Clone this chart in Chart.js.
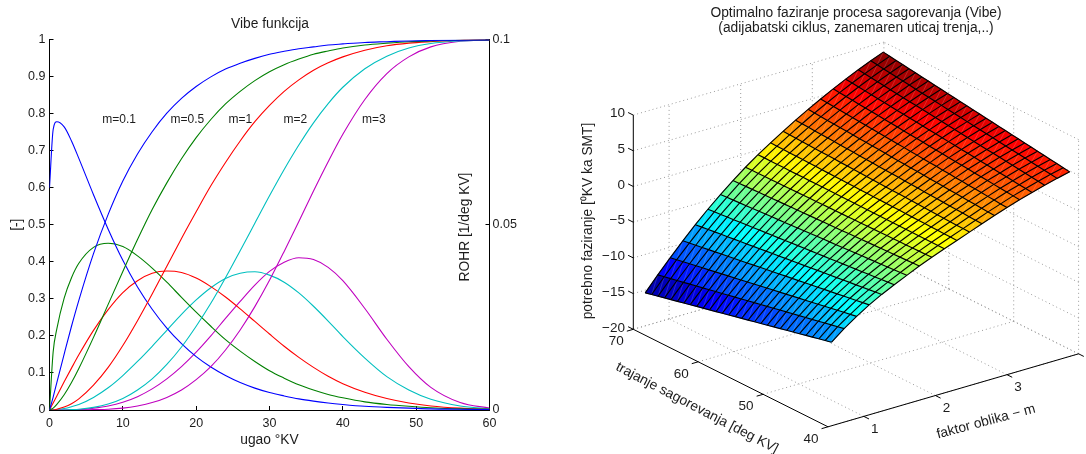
<!DOCTYPE html>
<html>
<head>
<meta charset="utf-8">
<title>Vibe funkcija</title>
<script src="https://cdn.jsdelivr.net/npm/chart.js@4"></script>
<style>
  body { margin: 0; background: #fff; }
  canvas { position: absolute; top: 0; }
  #vibe { left: 0; }
  #phasing { left: 540px; }
</style>
</head>
<body>
<canvas id="vibe" width="540" height="454"></canvas>
<canvas id="phasing" width="546" height="454"></canvas>
<script>
/* ---- Left panel: burned fraction [-] and ROHR [1/deg KV] vs angle ---- */
const angle = [0, 0.5, 1, 2, 3, 4, 6, 8, 10, 12, 14, 16, 18, 20, 22, 24, 26, 28, 30, 32, 34, 36, 38, 40, 43, 46, 49, 52, 56, 60];

const burn01 = [0, .035, .074, .151, .226, .296, .422, .528, .618, .691, .751, .801, .841, .873, .899, .920, .936, .949, .960, .968, .975, .980, .985, .988, .992, .994, .996, .997, .998, .999];
const burn05 = [0, .005, .015, .041, .074, .112, .196, .285, .374, .460, .541, .613, .678, .735, .784, .826, .860, .889, .913, .932, .947, .960, .969, .977, .985, .990, .994, .996, .998, .999];
const burn1 = [0, 0, .002, .008, .017, .030, .067, .115, .174, .241, .313, .388, .463, .535, .605, .668, .726, .778, .822, .860, .891, .917, .937, .953, .971, .983, .990, .994, .998, .999];
const burn2 = [0, 0, 0, 0, .001, .002, .007, .016, .031, .054, .084, .123, .170, .226, .288, .357, .430, .504, .578, .649, .715, .775, .827, .871, .921, .955, .977, .989, .996, .999];
const burn3 = [0, 0, 0, 0, 0, 0, .001, .002, .005, .011, .020, .034, .054, .082, .117, .162, .216, .279, .350, .428, .509, .591, .670, .744, .838, .908, .953, .980, .995, .999];

const rohr01 = [.06, .0757, .0778, .0764, .0726, .0679, .0581, .0488, .0404, .0332, .0272, .0221, .0179, .0144, .0116, .0093, .0074, .0059, .0047, .0038, .0030, .0024, .0019, .0015, .0010, .0007, .0005, .0003, .0002, .0001];
const rohr05 = [0, .0157, .0219, .0302, .0357, .0396, .0439, .0450, .0441, .0416, .0383, .0345, .0304, .0264, .0226, .0190, .0159, .0131, .0106, .0086, .0068, .0054, .0042, .0033, .0022, .0015, .0010, .0006, .0003, .0002];
const rohr1 = [0, .0019, .0038, .0076, .0113, .0149, .0215, .0271, .0317, .0349, .0369, .0375, .0371, .0356, .0333, .0305, .0273, .0239, .0205, .0172, .0142, .0115, .0091, .0071, .0048, .0031, .0019, .0011, .0005, .0002];
const rohr2 = [0, 0, .0001, .0004, .0009, .0015, .0034, .0060, .0093, .0131, .0172, .0215, .0258, .0297, .0330, .0355, .0369, .0373, .0364, .0345, .0316, .0280, .0240, .0198, .0140, .0090, .0054, .0029, .0011, .0003];
const rohr3 = [0, 0, 0, 0, .0001, .0001, .0005, .0011, .0021, .0036, .0057, .0084, .0117, .0156, .0200, .0247, .0293, .0337, .0374, .0399, .0411, .0406, .0385, .0349, .0274, .0191, .0117, .0061, .0020, .0005];

const xTicks = [0, 10, 20, 30, 40, 50, 60];
const leftTicks = [0, .1, .2, .3, .4, .5, .6, .7, .8, .9, 1];
const rightTicks = [0, .05, .1];

const mLabels = ['m=0.1', 'm=0.5', 'm=1', 'm=2', 'm=3'];
const mLabelAngles = [7.2, 16.5, 24.4, 31.9, 42.6];

/* ---- Right panel: optimal phasing surface ---- */
const shapeM = [.55, .725, .9, 1.075, 1.25, 1.425, 1.6, 1.775, 1.95, 2.125, 2.3, 2.475, 2.65, 2.825, 3.0, 3.175, 3.35, 3.525, 3.7, 3.875];
const durationDeg = [40, 40.99, 41.98, 42.97, 43.96, 44.95, 45.94, 46.93, 47.92, 48.91, 49.90, 50.89, 51.88, 52.87, 53.86, 54.85, 55.84, 56.83, 57.82, 58.81, 59.80, 60.79, 61.78, 62.77, 63.76, 64.75, 65.74, 66.73, 67.72, 68.71];

// one row per shapeM value, one column per durationDeg value
const phasing = [
  [-8.30,-8.51,-8.72,-8.94,-9.15,-9.36,-9.57,-9.78,-10.00,-10.21,-10.42,-10.63,-10.84,-11.06,-11.27,-11.48,-11.69,-11.90,-12.12,-12.33,-12.54,-12.75,-12.96,-13.18,-13.39,-13.60,-13.81,-14.02,-14.24,-14.45],
  [-6.90,-7.09,-7.28,-7.47,-7.67,-7.86,-8.05,-8.24,-8.43,-8.62,-8.81,-9.01,-9.20,-9.39,-9.58,-9.77,-9.96,-10.15,-10.34,-10.54,-10.73,-10.92,-11.11,-11.30,-11.49,-11.69,-11.88,-12.07,-12.26,-12.45],
  [-5.70,-5.87,-6.03,-6.20,-6.37,-6.54,-6.70,-6.87,-7.04,-7.20,-7.37,-7.54,-7.71,-7.87,-8.04,-8.21,-8.38,-8.54,-8.71,-8.88,-9.04,-9.21,-9.38,-9.55,-9.71,-9.88,-10.05,-10.21,-10.38,-10.55],
  [-4.60,-4.74,-4.88,-5.02,-5.17,-5.31,-5.45,-5.59,-5.73,-5.87,-6.01,-6.16,-6.30,-6.44,-6.58,-6.72,-6.86,-7.00,-7.15,-7.29,-7.43,-7.57,-7.71,-7.85,-7.99,-8.13,-8.28,-8.42,-8.56,-8.70],
  [-3.65,-3.76,-3.88,-3.99,-4.11,-4.22,-4.33,-4.45,-4.56,-4.67,-4.79,-4.90,-5.02,-5.13,-5.24,-5.36,-5.47,-5.58,-5.70,-5.81,-5.93,-6.04,-6.15,-6.27,-6.38,-6.49,-6.61,-6.72,-6.84,-6.95],
  [-2.80,-2.89,-2.97,-3.06,-3.14,-3.23,-3.32,-3.40,-3.49,-3.58,-3.66,-3.75,-3.83,-3.92,-4.01,-4.09,-4.18,-4.27,-4.35,-4.44,-4.52,-4.61,-4.70,-4.78,-4.87,-4.96,-5.04,-5.13,-5.21,-5.30],
  [-2.00,-2.06,-2.12,-2.18,-2.24,-2.30,-2.36,-2.42,-2.48,-2.54,-2.60,-2.66,-2.72,-2.78,-2.84,-2.91,-2.97,-3.03,-3.09,-3.15,-3.21,-3.27,-3.33,-3.39,-3.45,-3.51,-3.57,-3.63,-3.69,-3.75],
  [-1.20,-1.24,-1.28,-1.31,-1.35,-1.39,-1.43,-1.47,-1.50,-1.54,-1.58,-1.62,-1.66,-1.69,-1.73,-1.77,-1.81,-1.84,-1.88,-1.92,-1.96,-2.00,-2.03,-2.07,-2.11,-2.15,-2.19,-2.22,-2.26,-2.30],
  [-.50,-.52,-.53,-.55,-.56,-.58,-.59,-.61,-.62,-.64,-.66,-.67,-.69,-.70,-.72,-.73,-.75,-.76,-.78,-.79,-.81,-.83,-.84,-.86,-.87,-.89,-.90,-.92,-.93,-.95],
  [.20,.20,.21,.21,.21,.22,.22,.22,.23,.23,.23,.24,.24,.24,.25,.25,.26,.26,.26,.27,.27,.27,.28,.28,.28,.29,.29,.29,.30,.30],
  [.85,.87,.89,.91,.93,.95,.97,.99,1.02,1.04,1.06,1.08,1.10,1.12,1.14,1.16,1.18,1.20,1.22,1.24,1.26,1.28,1.31,1.33,1.35,1.37,1.39,1.41,1.43,1.45],
  [1.50,1.54,1.57,1.61,1.64,1.68,1.72,1.75,1.79,1.83,1.86,1.90,1.93,1.97,2.01,2.04,2.08,2.12,2.15,2.19,2.22,2.26,2.30,2.33,2.37,2.41,2.44,2.48,2.51,2.55],
  [2.15,2.20,2.25,2.30,2.35,2.40,2.45,2.50,2.55,2.60,2.65,2.70,2.75,2.80,2.85,2.90,2.95,3.00,3.05,3.10,3.15,3.20,3.25,3.30,3.35,3.40,3.45,3.50,3.55,3.60],
  [2.80,2.86,2.92,2.99,3.05,3.11,3.17,3.23,3.30,3.36,3.42,3.48,3.55,3.61,3.67,3.73,3.79,3.86,3.92,3.98,4.04,4.10,4.17,4.23,4.29,4.35,4.41,4.48,4.54,4.60],
  [3.40,3.47,3.55,3.62,3.70,3.77,3.84,3.92,3.99,4.07,4.14,4.22,4.29,4.36,4.44,4.51,4.59,4.66,4.73,4.81,4.88,4.96,5.03,5.10,5.18,5.25,5.33,5.40,5.47,5.55],
  [4.00,4.08,4.17,4.25,4.34,4.42,4.51,4.59,4.68,4.76,4.84,4.93,5.01,5.10,5.18,5.27,5.35,5.44,5.52,5.61,5.69,5.77,5.86,5.94,6.03,6.11,6.20,6.28,6.37,6.45],
  [4.50,4.60,4.69,4.79,4.89,4.98,5.08,5.18,5.27,5.37,5.47,5.56,5.66,5.76,5.85,5.95,6.05,6.14,6.24,6.34,6.43,6.53,6.62,6.72,6.82,6.91,7.01,7.11,7.20,7.30],
  [5.00,5.11,5.21,5.32,5.43,5.53,5.64,5.75,5.86,5.96,6.07,6.18,6.28,6.39,6.50,6.60,6.71,6.82,6.92,7.03,7.14,7.24,7.35,7.46,7.57,7.67,7.78,7.89,7.99,8.10],
  [5.45,5.57,5.68,5.80,5.92,6.04,6.15,6.27,6.39,6.50,6.62,6.74,6.86,6.97,7.09,7.21,7.33,7.44,7.56,7.68,7.79,7.91,8.03,8.15,8.26,8.38,8.50,8.61,8.73,8.85],
  [5.85,5.98,6.11,6.23,6.36,6.49,6.62,6.74,6.87,7.00,7.13,7.25,7.38,7.51,7.64,7.76,7.89,8.02,8.15,8.27,8.40,8.53,8.66,8.78,8.91,9.04,9.17,9.29,9.42,9.55],
];

const mTicks = [1, 2, 3];
const durationTicks = [40, 50, 60, 70];
const zTicks = [-20, -15, -10, -5, 0, 5, 10];

const FONT = '"Liberation Sans", Arial, sans-serif';
const INK = '#1c1c1c';
const COLORS = { blue: '#0000ff', green: '#008000', red: '#ff0000', cyan: '#00bfbf', magenta: '#bf00bf' };

/* ---- Left chart ---- */
function curve(values, color, axis) {
  return {
    data: angle.map((a, i) => ({ x: a, y: values[i] })),
    yAxisID: axis,
    showLine: true,
    borderColor: color,
    borderWidth: 1.1,
    pointRadius: 0,
    cubicInterpolationMode: 'monotone',
  };
}

function axisStyle(ticks, extra) {
  return {
    type: 'linear',
    afterBuildTicks: (s) => { s.ticks = ticks.map((v) => ({ value: v })); },
    border: { color: '#000', width: 1 },
    grid: { drawOnChartArea: false, drawTicks: true, tickLength: -4, tickColor: '#000' },
    ...extra,
  };
}

const vibeText = {
  id: 'vibeText',
  afterDatasetsDraw(chart) {
    const { ctx, scales } = chart;
    ctx.save();
    ctx.fillStyle = INK;
    ctx.font = '12px ' + FONT;
    ctx.textAlign = 'left';
    ctx.textBaseline = 'middle';
    mLabels.forEach((t, i) => {
      ctx.fillText(t, scales.x.getPixelForValue(mLabelAngles[i]), scales.y.getPixelForValue(.783));
    });
    ctx.font = '13.8px ' + FONT;
    ctx.textAlign = 'center';
    ctx.translate(465, 227);
    ctx.rotate(-Math.PI / 2);
    ctx.fillText('ROHR [1/deg KV]', 0, 0);
    ctx.restore();
  },
};

new Chart(document.getElementById('vibe'), {
  type: 'scatter',
  data: {
    datasets: [
      curve(burn01, COLORS.blue, 'y'), curve(burn05, COLORS.green, 'y'), curve(burn1, COLORS.red, 'y'),
      curve(burn2, COLORS.cyan, 'y'), curve(burn3, COLORS.magenta, 'y'),
      curve(rohr01, COLORS.blue, 'yR'), curve(rohr05, COLORS.green, 'yR'), curve(rohr1, COLORS.red, 'yR'),
      curve(rohr2, COLORS.cyan, 'yR'), curve(rohr3, COLORS.magenta, 'yR'),
    ],
  },
  options: {
    responsive: false,
    animation: false,
    plugins: {
      legend: { display: false },
      tooltip: { enabled: false },
      title: {
        display: true, text: 'Vibe funkcija', color: INK,
        font: { family: FONT, size: 13.8, weight: 'normal' },
        padding: { top: 15.7, bottom: 7.2 },
      },
    },
    scales: {
      x: axisStyle(xTicks, {
        min: 0, max: 60,
        afterFit: (s) => { s.height = 44; },
        ticks: { color: INK, font: { family: FONT, size: 12.5 }, padding: 10, maxRotation: 0, autoSkip: false, callback: (v) => String(v) },
        title: { display: true, text: 'ugao °KV', color: INK, font: { family: FONT, size: 13.8 }, padding: { top: 0, bottom: 5.7 } },
      }),
      y: axisStyle(leftTicks, {
        min: 0, max: 1,
        afterFit: (s) => { s.width = 49.5; },
        ticks: { color: INK, font: { family: FONT, size: 12.5 }, padding: 8, autoSkip: false, callback: (v) => String(v) },
        title: { display: true, text: '[-]', color: INK, font: { family: FONT, size: 13.8 }, padding: { top: 8.7, bottom: 0 } },
      }),
      yR: axisStyle(rightTicks, {
        position: 'right',
        min: 0, max: .1,
        afterFit: (s) => { s.width = 50.5; },
        ticks: { color: INK, font: { family: FONT, size: 12.5 }, padding: 7, autoSkip: false, callback: (v) => String(v) },
      }),
    },
  },
  plugins: [vibeText],
});

/* ---- Right chart: parallel projection of the 3D box onto a flat x/y scale ---- */
const BOX = { mMin: .5, mMax: 4, dMin: 40, dMax: 70, zMin: -20, zMax: 10 };

function project(m, d, z) {
  return {
    x: 633.3 + 71.6 * (m - BOX.mMin) + 6.49 * (BOX.dMax - d),
    y: 329.3 - 20.85 * (m - BOX.mMin) + 3.25 * (BOX.dMax - d) - 7.14 * (z - BOX.zMin),
  };
}

function jet(t) {
  const c = (v) => Math.round(255 * Math.max(0, Math.min(1, v)));
  return `rgb(${c(Math.min(4 * t - 1.5, -4 * t + 4.5))},${c(Math.min(4 * t - .5, -4 * t + 3.5))},${c(Math.min(4 * t + .5, -4 * t + 2.5))})`;
}

function seg(points, color, width, dash, order) {
  return { data: points, showLine: true, borderColor: color, borderWidth: width, borderDash: dash, pointRadius: 0, order };
}

const GRID_COLOR = '#9a9a9a';
const GRID_DASH = [1, 3];
const datasets = [];

function gridLine(a, b) {
  datasets.push(seg([project(...a), project(...b)], GRID_COLOR, 1, GRID_DASH, 3));
}

// floor and the two back walls
const { mMin, mMax, dMin, dMax, zMin, zMax } = BOX;
durationTicks.forEach((d) => gridLine([mMin, d, zMin], [mMax, d, zMin]));
[...mTicks, mMax].forEach((m) => gridLine([m, dMin, zMin], [m, dMax, zMin]));
zTicks.forEach((z) => {
  gridLine([mMin, dMax, z], [mMax, dMax, z]);
  gridLine([mMax, dMin, z], [mMax, dMax, z]);
});
mTicks.forEach((m) => gridLine([m, dMax, zMin], [m, dMax, zMax]));
durationTicks.slice(0, 3).forEach((d) => gridLine([mMax, d, zMin], [mMax, d, zMax]));
gridLine([mMax, dMax, zMin], [mMax, dMax, zMax]);

// solid axes and their ticks
function axisLine(a, b) {
  datasets.push(seg([project(...a), project(...b)], '#000', 1, [], 0));
}
axisLine([mMin, dMax, zMin], [mMin, dMax, zMax]);
axisLine([mMin, dMax, zMin], [mMin, dMin, zMin]);
axisLine([mMin, dMin, zMin], [mMax, dMin, zMin]);
zTicks.forEach((z) => axisLine([mMin, dMax, z], [mMin, dMax + .8, z]));
durationTicks.forEach((d) => axisLine([mMin, d, zMin], [mMin - .09, d, zMin]));
[...mTicks, mMax].forEach((m) => axisLine([m, dMin, zMin], [m, dMin - .8, zMin]));

// surface mesh
let firstMesh = null;
shapeM.forEach((m, i) => {
  const ds = seg(durationDeg.map((d, j) => project(m, d, phasing[i][j])), '#000', 1.15, [], 1);
  datasets.push(ds);
  firstMesh = ds;
});
durationDeg.forEach((d, j) => {
  const ds = seg(shapeM.map((m, i) => project(m, d, phasing[i][j])), '#000', 1.15, [], 1);
  datasets.push(ds);
  firstMesh = ds;
});

const surfaceFaces = {
  id: 'surfaceFaces',
  beforeDatasetDraw(chart, args) {
    // datasets of equal order are drawn last-to-first, so this is the first mesh line
    if (chart.data.datasets[args.index] !== firstMesh) return;
    const { ctx, scales } = chart;
    const px = (m, d, z) => {
      const p = project(m, d, z);
      return [scales.x.getPixelForValue(p.x), scales.y.getPixelForValue(p.y)];
    };
    const all = phasing.flat();
    const lo = Math.min(...all), hi = Math.max(...all);
    ctx.save();
    for (let i = 0; i < shapeM.length - 1; i++) {
      for (let j = 0; j < durationDeg.length - 1; j++) {
        const z00 = phasing[i][j], z01 = phasing[i][j + 1], z10 = phasing[i + 1][j], z11 = phasing[i + 1][j + 1];
        const a = px(shapeM[i], durationDeg[j], z00), b = px(shapeM[i], durationDeg[j + 1], z01);
        const c = px(shapeM[i + 1], durationDeg[j + 1], z11), d = px(shapeM[i + 1], durationDeg[j], z10);
        const col = jet(((z00 + z01 + z10 + z11) / 4 - lo) / (hi - lo));
        ctx.beginPath();
        ctx.moveTo(...a); ctx.lineTo(...b); ctx.lineTo(...c); ctx.lineTo(...d);
        ctx.closePath();
        ctx.fillStyle = col;
        ctx.strokeStyle = col;
        ctx.lineWidth = .6;
        ctx.fill();
        ctx.stroke();
        // light seam across each face, as in the rasterised original
        ctx.beginPath();
        ctx.moveTo(...a); ctx.lineTo(...c);
        ctx.strokeStyle = 'rgba(255,255,255,.2)';
        ctx.lineWidth = .8;
        ctx.stroke();
      }
    }
    ctx.restore();
  },
};

const phasingText = {
  id: 'phasingText',
  afterDatasetsDraw(chart) {
    const { ctx, scales } = chart;
    const at = (x, y) => [scales.x.getPixelForValue(x), scales.y.getPixelForValue(y)];
    const put = (text, x, y, size, rot, align) => {
      ctx.save();
      ctx.font = size + 'px ' + FONT;
      ctx.textAlign = align || 'center';
      ctx.textBaseline = 'middle';
      ctx.fillStyle = INK;
      ctx.translate(...at(x, y));
      if (rot) ctx.rotate(rot * Math.PI / 180);
      ctx.fillText(text, 0, 0);
      ctx.restore();
    };
    put('Optimalno faziranje procesa sagorevanja (Vibe)', 856, 12.7, 13.8);
    put('(adijabatski ciklus, zanemaren uticaj trenja,..)', 856, 28.3, 13.8);

    zTicks.forEach((z) => {
      const p = project(mMin, dMax, z);
      put(String(z).replace('-', '\u2212'), 625, p.y - 1.5, 13.5, 0, 'right');
    });
    durationTicks.forEach((d) => {
      const p = project(mMin, d, zMin);
      put(String(d), p.x - 17, p.y + 12, 13.5);
    });
    mTicks.forEach((m) => {
      const p = project(m, dMin, zMin);
      put(String(m), p.x + 11, p.y + 12.5, 13.5);
    });

    put('potrebno faziranje [\u2070KV ka SMT]', 588, 221, 13.8, -90);
    put('trajanje sagorevanja [deg KV]', 697, 408, 13.8, 27.5);
    put('faktor oblika \u2212 m', 986, 421.7, 13.8, -15);
  },
};

new Chart(document.getElementById('phasing'), {
  type: 'scatter',
  data: { datasets },
  options: {
    responsive: false,
    animation: false,
    clip: false,
    plugins: { legend: { display: false }, tooltip: { enabled: false } },
    scales: {
      x: { type: 'linear', display: false, min: 540, max: 1086 },
      y: { type: 'linear', display: false, min: 0, max: 454, reverse: true },
    },
  },
  plugins: [surfaceFaces, phasingText],
});
</script>
</body>
</html>
